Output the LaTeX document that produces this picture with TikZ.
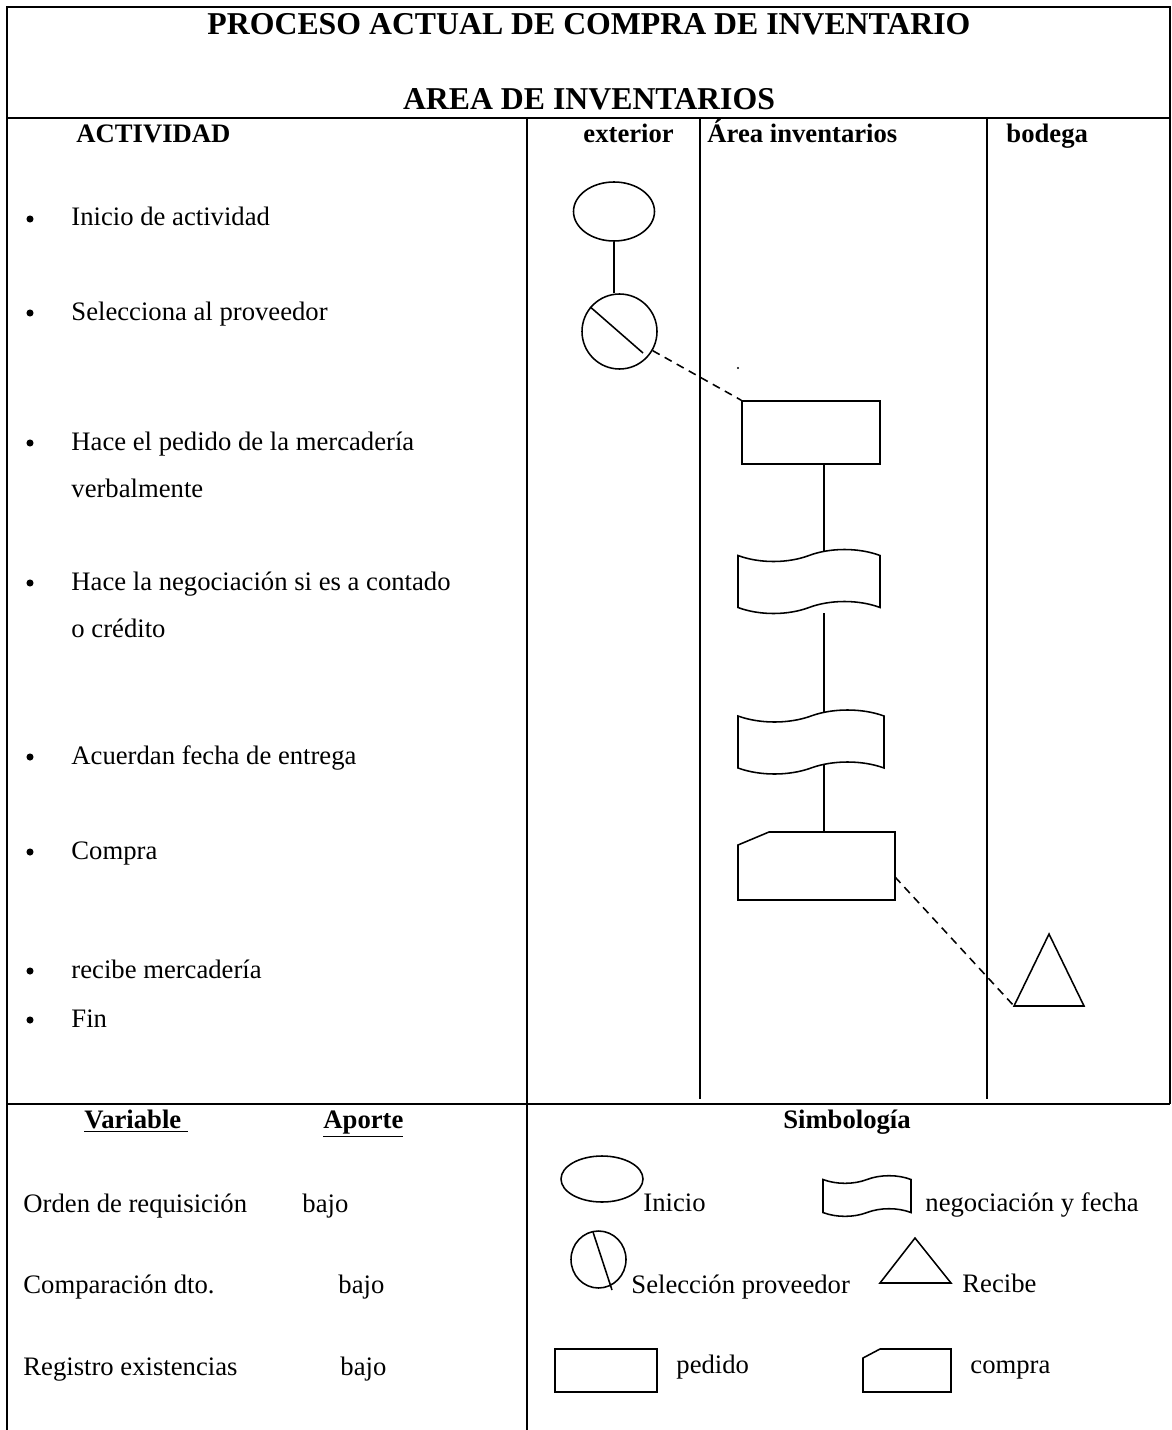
\documentclass[tikz,border=0pt]{standalone}
\usepackage{fontspec}
\setmainfont{Liberation Serif}
\usetikzlibrary{shapes.geometric}
\begin{document}
\begin{tikzpicture}[x=0.45pt,y=-0.45pt,
  frame/.style={line width=0.9pt},
  lane/.style={line width=0.6pt},
  sym/.style={draw, line width=0.7pt, inner sep=0pt},
  link/.style={line width=0.7pt},
  dashlink/.style={line width=0.7pt, dash pattern=on 3.6pt off 2.6pt},
  txt/.style={anchor=base west, inner sep=0pt, font=\fontsize{12}{14}\selectfont},
  head/.style={anchor=base west, inner sep=0pt, font=\fontsize{12}{14}\selectfont\bfseries},
  ttl/.style={anchor=base, inner sep=0pt, font=\fontsize{14.3}{17}\selectfont\bfseries},
  bul/.style={circle, fill, inner sep=0pt, minimum size=3.2pt},
  pics/tape/.style={code={
    \draw[link] (0,0) .. controls (0.15,8) and (0.35,8) .. (0.5,0)
      .. controls (0.65,-8) and (0.85,-8) .. (1,0) -- (1,52)
      .. controls (0.85,44) and (0.65,44) .. (0.5,52)
      .. controls (0.35,60) and (0.15,60) .. (0,52) -- cycle;}}
]
\useasboundingbox (0,0) rectangle (1171,1430);

% table frame
\draw[frame] (7,1430) -- (7,7) -- (1170,7) -- (1170,1104);
\draw[frame] (7,118) -- (1170,118);
\draw[frame] (7,1104) -- (1170,1104);
\draw[frame] (527,118) -- (527,1430);
\draw[lane] (700,118) -- (700,1099);
\draw[lane] (987,118) -- (987,1099);

% titles
\node[ttl] (t1) at (589,35) {PROCESO ACTUAL DE COMPRA DE INVENTARIO};
\node[ttl] (t2) at (589,110) {AREA DE INVENTARIOS};

% column headings
\node[head] (hact) at (76,143) {ACTIVIDAD};
\node[head] (hext) at (583,143) {exterior};
\node[head] (hinv) at (707,143) {Área inventarios};
\node[head] (hbod) at (1006,143) {bodega};

% activity list
\foreach \n/\y in {b1/219,b2/313,b3/443,b4/583,b5/757,b6/852,b7/971,b8/1020}
  \node[bul] (\n) at (30,\y) {};
\node[txt] (a1) at (71,226) {Inicio de actividad};
\node[txt] (a2) at (71,320) {Selecciona al proveedor};
\node[txt] (a3) at (71,450) {Hace el pedido de la mercadería};
\node[txt] (a3b) at (71,497) {verbalmente};
\node[txt] (a4) at (71,590) {Hace la negociación si es a contado};
\node[txt] (a4b) at (71,637) {o crédito};
\node[txt] (a5) at (71,764) {Acuerdan fecha de entrega};
\node[txt] (a6) at (71,859) {Compra};
\node[txt] (a7) at (71,978) {recibe mercadería};
\node[txt] (a8) at (71,1027) {Fin};

% flow symbols
\node[sym, ellipse, minimum width=36.45pt, minimum height=26.55pt] (ini) at (614,211.5) {};
\node[sym, circle, minimum size=33.75pt] (sel) at (619.5,331.5) {};
\coordinate (selcut) at (643,353);
\draw[link] (sel.140) -- (selcut);
\draw[link] (ini.south) -- (ini.south |- sel.north);
\node[sym, rectangle, minimum width=62.1pt, minimum height=28.35pt] (ped) at (811,432.5) {};
\draw[dashlink] (sel.-30) -- (ped.north west);
\fill (738,368) circle (0.5pt);

\pic[xscale=142] (neg) at (738,555.5) {tape};
\pic[xscale=146] (fec) at (738,716) {tape};
\coordinate (negtop) at (824,551.5);
\coordinate (negbot) at (824,613);
\coordinate (fectop) at (824,712.5);
\coordinate (fecbot) at (824,764.5);
\draw[link] (negtop |- ped.south) -- (negtop);
\draw[link] (negbot) -- (fectop);

\coordinate (comtop) at (824,832);
\coordinate (comright) at (895,877);
\draw[link] (738,845) -- (769,832) -- (895,832) -- (895,900) -- (738,900) -- cycle;
\draw[link] (fecbot) -- (comtop);

\coordinate (rcvtop) at (1049,934);
\coordinate (rcvleft) at (1014,1006);
\coordinate (rcvright) at (1084,1006);
\draw[link] (rcvleft) -- (rcvtop) -- (rcvright) -- cycle;
\draw[dashlink] (comright) -- (rcvleft);

% variables
\node[head] (hvar) at (84,1128) {\underline{Variable\ }};
\node[head] (hapo) at (323,1128) {\underline{Aporte}};
\node[txt] (v1) at (23,1212) {Orden de requisición};
\node[txt] (p1) at (302,1212) {bajo};
\node[txt] (v2) at (23,1293) {Comparación dto.};
\node[txt] (p2) at (338,1293) {bajo};
\node[txt] (v3) at (23,1375) {Registro existencias};
\node[txt] (p3) at (340,1375) {bajo};

% legend
\node[head, anchor=base] (hsim) at (847,1128) {Simbología};
\node[sym, ellipse, minimum width=36.9pt, minimum height=20.7pt] (lini) at (602,1179) {};
\node[txt] (tini) at (643,1211) {Inicio};
\node[sym, ellipse, minimum width=24.75pt, minimum height=25.65pt] (lsel) at (598.5,1259.5) {};
\coordinate (lselA) at (593,1232);
\coordinate (lselB) at (612,1290);
\draw[link] (lselA) -- (lselB);
\node[txt] (tsel) at (631,1293) {Selección proveedor};
\node[sym, rectangle, minimum width=45.9pt, minimum height=19.35pt] (lped) at (606,1370.5) {};
\node[txt] (tped) at (676,1373) {pedido};
\pic[xscale=88, yscale=0.635] (lneg) at (823,1179.5) {tape};
\node[txt] (tneg) at (925,1211) {negociación y fecha};
\coordinate (lrcvtop) at (915,1238);
\coordinate (lrcvleft) at (880,1283);
\coordinate (lrcvright) at (951,1283);
\draw[link] (lrcvleft) -- (lrcvtop) -- (lrcvright) -- cycle;
\node[txt] (trcv) at (962,1292) {Recibe};
\draw[link] (863,1358) -- (880,1349) -- (951,1349) -- (951,1392) -- (863,1392) -- cycle;
\node[txt] (tcom) at (970,1373) {compra};
\end{tikzpicture}
\end{document}
